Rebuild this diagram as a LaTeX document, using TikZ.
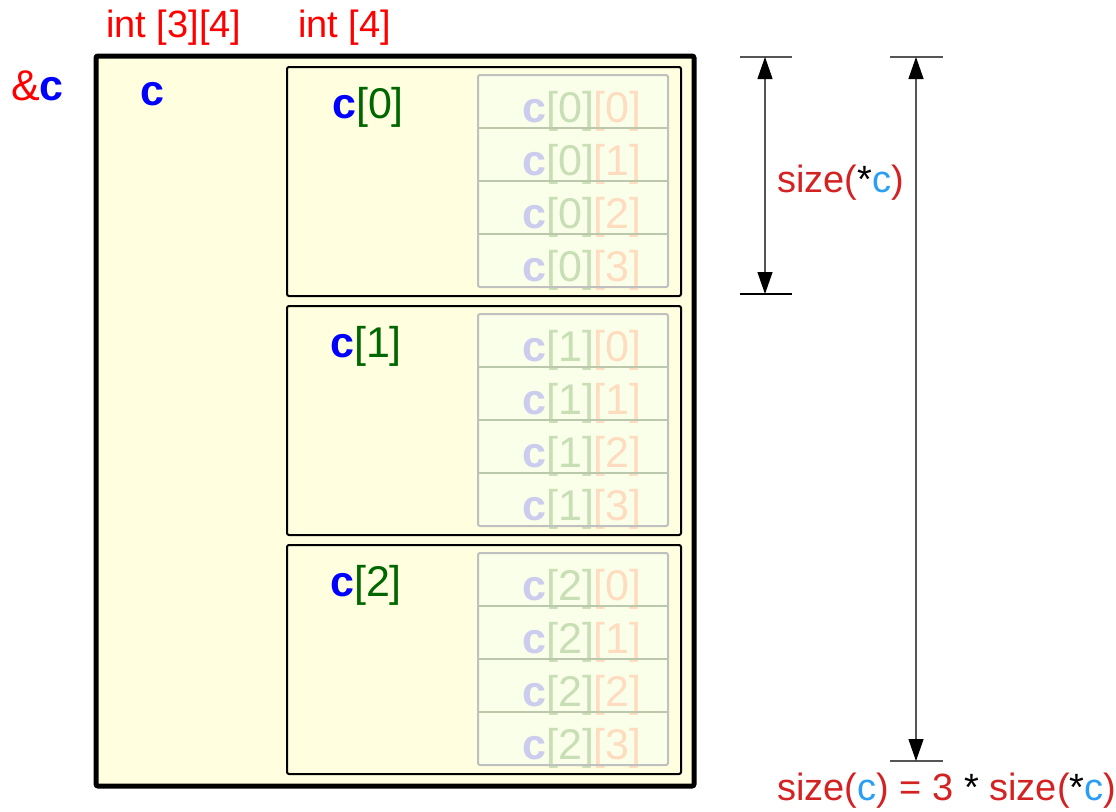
\documentclass[tikz,border=0pt]{standalone}
\usepackage{fontspec}
\setmainfont{Liberation Sans}
\usetikzlibrary{arrows.meta}

\definecolor{arrfill}{HTML}{FFFFE0}
\definecolor{cellfill}{HTML}{F9FFE8}
\definecolor{cellline}{HTML}{C0C0C0}
\definecolor{sepline}{HTML}{BCC8AC}
\definecolor{idxgreen}{HTML}{006600}
\definecolor{sizered}{HTML}{D42222}
\definecolor{sizeblue}{HTML}{2A9DF4}
\definecolor{fadeblue}{HTML}{CCCCEE}
\definecolor{fadegreen}{HTML}{C8DEB4}
\definecolor{fadeorange}{HTML}{FFDCC0}
\definecolor{dimline}{HTML}{555555}

\begin{document}
\begin{tikzpicture}[x=1pt, y=-1pt,
    lbl/.style={inner sep=0pt, anchor=base west, font=\fontsize{38}{44}\selectfont},
    cname/.style={inner sep=0pt, anchor=base west, font=\fontsize{43}{50}\selectfont},
    cell/.style={inner sep=0pt, anchor=base, font=\fontsize{43}{50}\selectfont},
    dimarrow/.style={dimline, line width=1.2pt, {Triangle[length=22pt,width=15pt,black]}-{Triangle[length=22pt,width=15pt,black]}}]
    \useasboundingbox (0,0) rectangle (1116,811);

    \draw[black, line width=5pt, fill=arrfill, rounded corners=2pt] (96,56) rectangle (694,786);

    \draw[black, line width=2pt, rounded corners=2pt] (287,67) rectangle (681,296);
    \draw[black, line width=2pt, rounded corners=2pt] (287,306) rectangle (681,535);
    \draw[black, line width=2pt, rounded corners=2pt] (287,545) rectangle (681,774);

    \fill[cellfill] (478,75) rectangle (668,287);
    \fill[cellfill] (478,314) rectangle (668,526);
    \fill[cellfill] (478,553) rectangle (668,765);

    \node[cell] (c00) at (582,122) {\textcolor{fadeblue}{\textbf{c}}\textcolor{fadegreen}{[0]}\textcolor{fadeorange}{[0]}};
    \node[cell] (c01) at (582,175) {\textcolor{fadeblue}{\textbf{c}}\textcolor{fadegreen}{[0]}\textcolor{fadeorange}{[1]}};
    \node[cell] (c02) at (582,228) {\textcolor{fadeblue}{\textbf{c}}\textcolor{fadegreen}{[0]}\textcolor{fadeorange}{[2]}};
    \node[cell] (c03) at (582,281) {\textcolor{fadeblue}{\textbf{c}}\textcolor{fadegreen}{[0]}\textcolor{fadeorange}{[3]}};
    \node[cell] (c10) at (582,361) {\textcolor{fadeblue}{\textbf{c}}\textcolor{fadegreen}{[1]}\textcolor{fadeorange}{[0]}};
    \node[cell] (c11) at (582,414) {\textcolor{fadeblue}{\textbf{c}}\textcolor{fadegreen}{[1]}\textcolor{fadeorange}{[1]}};
    \node[cell] (c12) at (582,467) {\textcolor{fadeblue}{\textbf{c}}\textcolor{fadegreen}{[1]}\textcolor{fadeorange}{[2]}};
    \node[cell] (c13) at (582,520) {\textcolor{fadeblue}{\textbf{c}}\textcolor{fadegreen}{[1]}\textcolor{fadeorange}{[3]}};
    \node[cell] (c20) at (582,600) {\textcolor{fadeblue}{\textbf{c}}\textcolor{fadegreen}{[2]}\textcolor{fadeorange}{[0]}};
    \node[cell] (c21) at (582,653) {\textcolor{fadeblue}{\textbf{c}}\textcolor{fadegreen}{[2]}\textcolor{fadeorange}{[1]}};
    \node[cell] (c22) at (582,706) {\textcolor{fadeblue}{\textbf{c}}\textcolor{fadegreen}{[2]}\textcolor{fadeorange}{[2]}};
    \node[cell] (c23) at (582,759) {\textcolor{fadeblue}{\textbf{c}}\textcolor{fadegreen}{[2]}\textcolor{fadeorange}{[3]}};

    \draw[sepline, line width=1.5pt] (478,128) -- (668,128);
    \draw[sepline, line width=1.5pt] (478,181) -- (668,181);
    \draw[sepline, line width=1.5pt] (478,234) -- (668,234);
    \draw[sepline, line width=1.5pt] (478,367) -- (668,367);
    \draw[sepline, line width=1.5pt] (478,420) -- (668,420);
    \draw[sepline, line width=1.5pt] (478,473) -- (668,473);
    \draw[sepline, line width=1.5pt] (478,606) -- (668,606);
    \draw[sepline, line width=1.5pt] (478,659) -- (668,659);
    \draw[sepline, line width=1.5pt] (478,712) -- (668,712);

    \draw[cellline, line width=2pt, rounded corners=2pt] (478,75) rectangle (668,287);
    \draw[cellline, line width=2pt, rounded corners=2pt] (478,314) rectangle (668,526);
    \draw[cellline, line width=2pt, rounded corners=2pt] (478,553) rectangle (668,765);

    \node[cname] (c0) at (332,118) {\textcolor{blue}{\textbf{c}}\textcolor{idxgreen}{[0]}};
    \node[cname] (c1) at (330,357) {\textcolor{blue}{\textbf{c}}\textcolor{idxgreen}{[1]}};
    \node[cname] (c2) at (330,596) {\textcolor{blue}{\textbf{c}}\textcolor{idxgreen}{[2]}};

    \node[cname] (arrname) at (140,105) {\textcolor{blue}{\textbf{c}}};
    \node[cname] (addr) at (11,100) {\textcolor{red}{\&}\textcolor{blue}{\textbf{c}}};
    \node[lbl, text=red] (type2d) at (106,37) {int [3][4]};
    \node[lbl, text=red] (type1d) at (298,37) {int [4]};

    \coordinate (d1top) at (765,57);
    \coordinate (d1bot) at (765,294);
    \coordinate (d2top) at (916,57);
    \coordinate (d2bot) at (916,761);

    \draw[dimline, line width=1.5pt] ([xshift=-25pt]d1top) -- ([xshift=27pt]d1top);
    \draw[black, line width=1.5pt] ([xshift=-25pt]d1bot) -- ([xshift=27pt]d1bot);
    \draw[dimline, line width=1.5pt] ([xshift=-26pt]d2top) -- ([xshift=27pt]d2top);
    \draw[dimline, line width=1.5pt] ([xshift=-26pt]d2bot) -- ([xshift=27pt]d2bot);
    \draw[dimarrow] (d1top) -- (d1bot);
    \draw[dimarrow] (d2top) -- (d2bot);

    \node[lbl, text=sizered] (rowsize) at (777,192) {size(\textcolor{black}{*}\textcolor{sizeblue}{c})};
    \node[lbl, text=sizered] (arrsize) at (777,800) {size(\textcolor{sizeblue}{c}) = 3 \textcolor{black}{*} size(\textcolor{black}{*}\textcolor{sizeblue}{c})};
\end{tikzpicture}
\end{document}
